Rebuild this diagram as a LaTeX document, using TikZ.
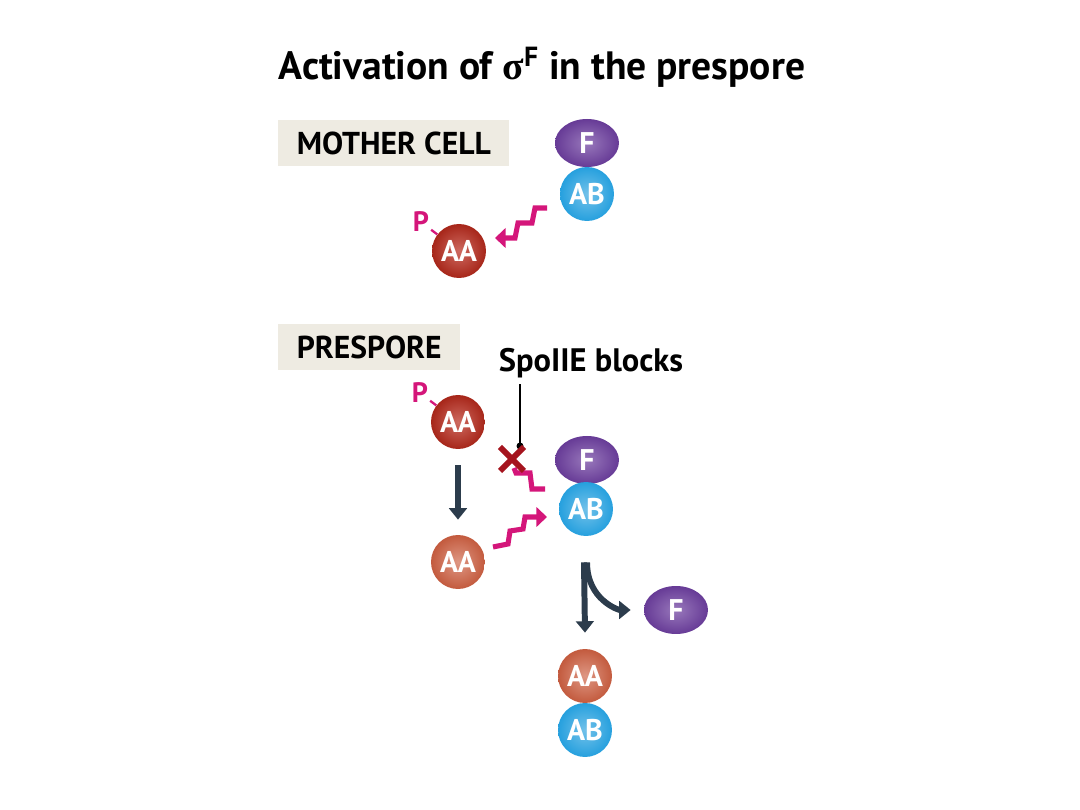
\documentclass[tikz,border=0pt]{standalone}
\usepackage{fontspec}
\setmainfont{PT Sans}
\newfontfamily\greekfont{Liberation Serif}
\usetikzlibrary{arrows.meta, shapes.geometric, calc}

\definecolor{boxbg}{RGB}{238,235,226}
\definecolor{fpurple}{RGB}{108,62,158}
\definecolor{abblue}{RGB}{38,160,222}
\definecolor{aared}{RGB}{185,42,28}
\definecolor{aalight}{RGB}{205,95,65}
\definecolor{sigmag}{RGB}{212,22,122}
\definecolor{arrowdark}{RGB}{44,60,76}
\definecolor{blockred}{RGB}{165,20,30}

\begin{document}
\begin{tikzpicture}[
    x=0.02cm, y=-0.02cm,
    mol/.style={circle, minimum size=1.08cm, inner sep=0pt, text=white, font=\fontsize{17}{18}\selectfont\bfseries},
    fmol/.style={mol, ellipse, minimum width=1.28cm, minimum height=0.96cm, shading=radial, inner color=fpurple!70!white, outer color=fpurple!95!black},
    abmol/.style={mol, shading=radial, inner color=abblue!65!white, outer color=abblue},
    aamol/.style={mol, shading=radial, inner color=aared!70!white, outer color=aared!90!black},
    aalightmol/.style={mol, shading=radial, inner color=aalight!65!white, outer color=aalight!95!black},
    cellbox/.style={rectangle, fill=boxbg, anchor=west, minimum height=0.92cm, inner xsep=0.37cm, font=\fontsize{18}{20}\selectfont\bfseries},
    plabel/.style={text=sigmag, inner sep=1pt, font=\fontsize{16}{17}\selectfont\bfseries},
    ptick/.style={draw=sigmag, line width=1.3pt},
    signal/.style={draw=sigmag, line width=2.9pt, line join=miter},
    darrow/.style={draw=arrowdark, line width=3.4pt, -{Triangle[length=6.5pt, width=10pt]}}
]
    \useasboundingbox (0,0) rectangle (1080,810);

    % title
    \node[font=\fontsize{22.5}{24}\selectfont\bfseries] (title) at (542,67) {Activation of {\greekfont σ}\textsuperscript{F} in the prespore};

    % mother cell
    \node[cellbox] (mother) at (278,143) {MOTHER CELL};
    \node[fmol]  (mF)  at (587,143) {F};
    \node[abmol] (mAB) at (587,194) {AB};
    \node[aamol] (mAA) at (459,251) {AA};
    \node[plabel] (mP) at (421,222) {P};
    \draw[ptick] (mP) -- (mAA);

    \coordinate (mZs) at (547,208);
    \coordinate (mZe) at (495,238);
    \draw[signal, -{Triangle[length=6pt, width=11pt]}] (mZs) -- ++(-12,0) -- ++(-3,15) -- ++(-14,0) -- ++(-3,15) -- (mZe);

    % prespore
    \node[cellbox] (prespore) at (278,347) {PRESPORE};
    \node[aamol] (pAA) at (458,422) {AA};
    \node[plabel] (pP) at (420,393) {P};
    \draw[ptick] (pP) -- (pAA);
    \node[aalightmol] (pAA2) at (458,562) {AA};
    \node[fmol]  (pF)  at (587,460) {F};
    \node[abmol] (pAB) at (586,509) {AB};

    \draw[darrow, shorten <=0.32cm, shorten >=0.3cm] (pAA) -- (pAA2);

    % blocked signal
    \node[font=\fontsize{18.5}{20}\selectfont\bfseries] (spo) at (591,363) {SpoIIE blocks};
    \coordinate (blk) at (520,446);
    \draw[line width=1.7pt] (spo.south -| blk) -- (blk);
    \fill (blk) circle (3.5);
    \coordinate (blkX) at (512,459);
    \draw[signal] (514,468) -- ++(2,5) -- ++(14,0) -- ++(2,16) -- ++(13,0);
    \draw[draw=blockred, line width=3.4pt] ($(blkX)+(-12,-12)$) -- ($(blkX)+(12,12)$)
                                           ($(blkX)+(12,-12)$) -- ($(blkX)+(-12,12)$);

    \coordinate (aZs) at (493,547);
    \coordinate (aZe) at (547,517);
    \draw[signal, -{Triangle[length=6pt, width=11pt]}] (aZs) -- ++(15,-3) -- ++(2,-13) -- ++(13,-2) -- ++(2,-12) -- (aZe);

    % release of F
    \node[fmol] (rF) at (676,610) {F};
    \node[aalightmol] (rAA) at (585,676) {AA};
    \node[abmol] (rAB) at (585,730) {AB};
    \draw[darrow] ([xshift=-0.04cm, yshift=-0.52cm]pAB.south) -- ([yshift=0.32cm]rAA.north);
    \draw[darrow, shorten >=0.26cm] ([xshift=0.02cm, yshift=-0.52cm]pAB.south) .. controls +(0,-0.75cm) and +(-0.5cm,0) .. (rF.west);
\end{tikzpicture}
\end{document}
